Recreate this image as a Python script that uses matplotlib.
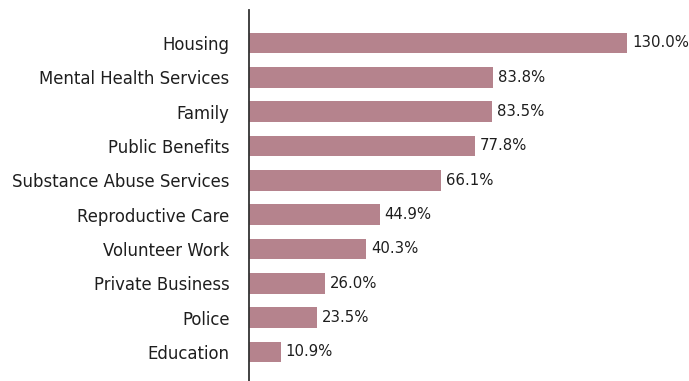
import matplotlib.pyplot as plt

categories = ["Housing", "Mental Health Services", "Family", "Public Benefits",
              "Substance Abuse Services", "Reproductive Care", "Volunteer Work",
              "Private Business", "Police", "Education"]
values = [130.0, 83.8, 83.5, 77.8, 66.1, 44.9, 40.3, 26.0, 23.5, 10.9]

plt.rcParams['font.family'] = ['DejaVu Sans']

fig = plt.figure(figsize=(6.89, 3.81), dpi=100)
ax = fig.add_axes([249 / 689, 0, 440 / 689, 371 / 381])

pos = list(range(len(categories)))
ax.barh(pos, values, height=0.6, color="#b5838d")

for y, v in zip(pos, values):
    ax.text(v + 1.7, y, f"{v:.1f}%", va="center", ha="left", fontsize=10.7, color="#1e1e1e")

ax.set_yticks(pos)
ax.set_yticklabels(categories, fontsize=11.9, color="#1e1e1e")
ax.tick_params(axis="y", length=0, pad=14)
ax.set_xticks([])
ax.set_xlim(0, 151.3)
ax.set_ylim(9.845, -0.961)

for side in ["top", "right", "bottom"]:
    ax.spines[side].set_visible(False)
ax.spines["left"].set_color("#333333")
ax.spines["left"].set_linewidth(1.3)

fig.savefig("out.png", dpi=100)
